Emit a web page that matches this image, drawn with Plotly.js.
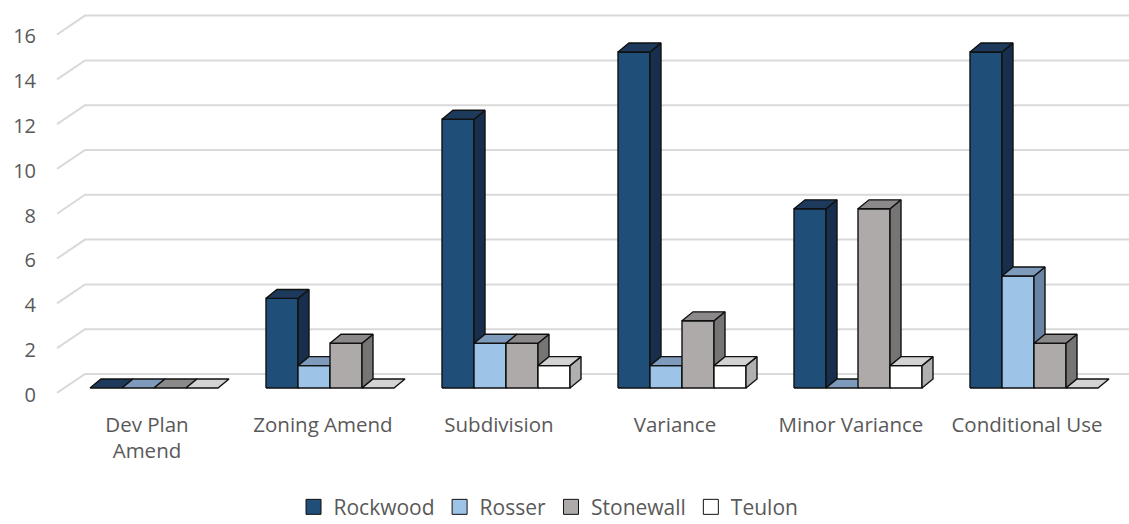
<!DOCTYPE html>
<html>
<head>
<meta charset="utf-8">
<script src="https://cdn.plot.ly/plotly-3.0.1.min.js"></script>
<style>
  html, body { margin: 0; padding: 0; background: #ffffff; }
  #chart { width: 1129px; height: 524px; }
</style>
</head>
<body>
<div id="chart"></div>
<script>
// Applications by type and municipality
const categories = ['Dev Plan<br>Amend', 'Zoning Amend', 'Subdivision', 'Variance', 'Minor Variance', 'Conditional Use'];
const seriesNames = ['Rockwood', 'Rosser', 'Stonewall', 'Teulon'];
const rockwood  = [0, 4, 12, 15, 8, 15];
const rosser    = [0, 1, 2, 1, 0, 5];
const stonewall = [0, 2, 2, 3, 8, 2];
const teulon    = [0, 0, 1, 1, 1, 0];
const yTicks    = [0, 2, 4, 6, 8, 10, 12, 14, 16];

// Face colours per series: front, top, side
const palette = [
  { front: '#1F4E79', top: '#1D3A5D', side: '#172F4C' },
  { front: '#9DC3E6', top: '#7F9BBB', side: '#6A84A4' },
  { front: '#AEAAAA', top: '#8B8989', side: '#767474' },
  { front: '#FFFFFF', top: '#D3D3D3', side: '#B0B0B0' }
];

// Pseudo-3D geometry in axis units (one category = 1 x unit)
const BAR_W = 32 / 176;        // width of one bar
const DEPTH_X = 11 / 176;      // receding offset of bar depth
const DEPTH_Y = 0.40;
const FLOOR_FRONT = -0.22;     // floor front edge relative to bar front
const WALL_BACK = 0.625;       // back wall relative to bar front
const FLOOR_X_FRONT = -0.551;  // left end of floor front edge
const FLOOR_X_BACK = -0.392;   // left end of back wall
const X_RANGE = [-0.6193, 5.5398];
const Y_RANGE = [-0.536, 17.321];

const values = [rockwood, rosser, stonewall, teulon];
const traces = [];

// Back-wall gridlines with their receding floor segment on the left
const gx = [], gy = [];
yTicks.forEach(t => {
  gx.push(FLOOR_X_FRONT, FLOOR_X_BACK, X_RANGE[1] + 0.1, null);
  gy.push(t + FLOOR_FRONT, t + WALL_BACK, t + WALL_BACK, null);
});
traces.push({
  type: 'scatter', mode: 'lines', x: gx, y: gy,
  line: { color: '#D9D9D9', width: 2 },
  hoverinfo: 'skip', showlegend: false
});

const edge = { color: '#111111', width: 1.4 };

values.forEach((vals, j) => {
  const front = { x: [], y: [] }, side = { x: [], y: [] }, top = { x: [], y: [] };
  vals.forEach((v, i) => {
    const x0 = i + (j - 2) * BAR_W;
    const x1 = x0 + BAR_W;
    if (v > 0) {
      front.x.push(x0, x1, x1, x0, x0, null);
      front.y.push(0, 0, v, v, 0, null);
      side.x.push(x1, x1 + DEPTH_X, x1 + DEPTH_X, x1, x1, null);
      side.y.push(0, DEPTH_Y, v + DEPTH_Y, v, 0, null);
    }
    top.x.push(x0, x1, x1 + DEPTH_X, x0 + DEPTH_X, x0, null);
    top.y.push(v, v, v + DEPTH_Y, v + DEPTH_Y, v, null);
  });
  const c = palette[j];
  [[front, c.front], [side, c.side], [top, c.top]].forEach(([poly, col]) => {
    traces.push({
      type: 'scatter', mode: 'lines', x: poly.x, y: poly.y,
      fill: 'toself', fillcolor: col, line: edge,
      connectgaps: false, hoverinfo: 'skip', showlegend: false
    });
  });
});

// Legend entries
seriesNames.forEach((name, j) => {
  traces.push({
    type: 'scatter', mode: 'markers', x: [null], y: [null], name: name,
    marker: { symbol: 'square', size: 15, color: palette[j].front,
              line: { color: '#111111', width: 1 } },
    hoverinfo: 'skip', showlegend: true
  });
});

const layout = {
  width: 1129, height: 524,
  margin: { l: 45, r: 0, t: 0, b: 124, autoexpand: false },
  paper_bgcolor: '#FFFFFF', plot_bgcolor: 'rgba(0,0,0,0)',
  font: { family: '"Open Sans", sans-serif', color: '#595959', size: 20 },
  xaxis: {
    range: X_RANGE, showgrid: false, zeroline: false, showline: false,
    tickvals: categories.map((_, i) => i - 0.04), ticktext: categories,
    ticks: '', ticklabelstandoff: 10,
    tickfont: { size: 20.5, color: '#595959' }, fixedrange: true
  },
  yaxis: {
    range: Y_RANGE, showgrid: false, zeroline: false, showline: false,
    tickvals: yTicks.map(t => t - 0.3), ticktext: yTicks.map(String),
    ticks: '', ticklabelstandoff: 8,
    tickfont: { size: 20, color: '#595959' }, fixedrange: true
  },
  showlegend: true,
  legend: {
    orientation: 'h', x: 0.4645, xanchor: 'center', y: -0.268, yanchor: 'middle',
    font: { size: 21, color: '#595959' }, bgcolor: 'rgba(0,0,0,0)'
  }
};

Plotly.newPlot('chart', traces, layout, { staticPlot: true });
</script>
</body>
</html>
